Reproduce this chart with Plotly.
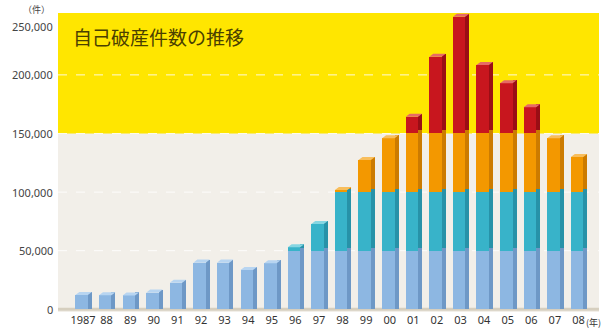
import numpy as np
import plotly.graph_objects as go

# 自己破産件数（件）
years = ["1987", "88", "89", "90", "91", "92", "93", "94", "95", "96", "97",
         "98", "99", "00", "01", "02", "03", "04", "05", "06", "07", "08"]
counts = [12200, 12000, 11800, 14200, 22700, 39800, 39800, 33500, 39200, 52900,
          72800, 101800, 127400, 146000, 164300, 215500, 249600, 208400, 192800,
          172300, 145900, 130000]

y_ticks = [0, 50000, 100000, 150000, 200000, 250000]
band_tops = [50000, 100000, 150000, None]

# front / side / top-cap colours for each 50,000 band
front_cols = ["#8DB7E2", "#38B3C9", "#F39800", "#C8161E"]
side_cols = ["#6E98C6", "#2792A8", "#CC7B00", "#9A0E15"]
cap_cols = ["#B8D5F1", "#86D6E2", "#F8BE5C", "#E66A66"]

idx = np.arange(len(years), dtype=float)
vals = np.array(counts, dtype=float)

FW = 0.53      # front face width (category units)
SW = 0.17      # side face width
DY = 2600      # vertical depth offset of the 3D faces

fig = go.Figure()

# each band is drawn from the floor up to its own top, highest band first,
# so lower bands paint over the upper ones without seams
for k in reversed(range(4)):
    hi = band_tops[k]
    top = vals if hi is None else np.minimum(vals, hi)
    lo = 0 if k == 0 else band_tops[k - 1]
    present = vals > lo
    h = np.where(present, top, 0)
    fig.add_trace(go.Bar(
        x=idx + FW / 2 + SW / 2, y=np.where(present, h + DY, 0),
        width=SW, marker=dict(color=side_cols[k], line=dict(width=0)),
        hoverinfo="skip", showlegend=False))
    fig.add_trace(go.Bar(
        x=idx, y=h, width=FW,
        marker=dict(color=front_cols[k], line=dict(width=0)),
        hoverinfo="skip", showlegend=False))

# top caps (parallelograms) coloured by the band of the bar's top
def band_of(v):
    if v > 150000:
        return 3
    if v > 100000:
        return 2
    if v > 50000:
        return 1
    return 0

for k in range(4):
    xs, ys = [], []
    for i, v in zip(idx, vals):
        if band_of(v) != k:
            continue
        x0 = i - FW / 2
        x1 = i + FW / 2
        xs += [x0, x1, x1 + SW, x0 + SW, x0, None]
        ys += [v, v, v + DY, v + DY, v, None]
    if xs:
        fig.add_trace(go.Scatter(
            x=xs, y=ys, mode="lines", fill="toself", fillcolor=cap_cols[k],
            line=dict(width=0, color=cap_cols[k]), hoverinfo="skip",
            showlegend=False))

y_lo, y_hi = -2300, 252800

shapes = [
    # yellow band above 150,000
    dict(type="rect", xref="paper", yref="y", x0=0, x1=1, y0=150000, y1=y_hi,
         fillcolor="#FFE600", line=dict(width=0), layer="below"),
    # floor line
    dict(type="line", xref="paper", yref="y", x0=0, x1=1, y0=0, y1=0,
         line=dict(color="#D6CFBF", width=3), layer="below"),
]
for t in [50000, 100000, 150000, 200000]:
    shapes.append(dict(type="line", xref="paper", yref="y", x0=0, x1=1, y0=t, y1=t,
                       line=dict(color="rgba(255,255,255,0.85)", width=1, dash="dash"),
                       layer="below"))

annotations = []
for t in y_ticks:
    ypos = t if t < 250000 else 241000
    annotations.append(dict(
        x=0, xref="paper", y=ypos, yref="y", xanchor="right", yanchor="middle",
        xshift=-3, text=f"{t:,}", showarrow=False,
        font=dict(family="Noto Sans", size=11, color="#444444")))
annotations.append(dict(
    x=0, xref="paper", y=1, yref="paper", xanchor="right", yanchor="bottom",
    xshift=-6, yshift=-5, text="（件）", showarrow=False,
    font=dict(family="Noto Sans CJK JP", size=9, color="#444444")))
annotations.append(dict(
    x=1, xref="paper", y=0, yref="paper", xanchor="right", yanchor="middle",
    xshift=3, yshift=-10, text="(年)", showarrow=False, borderpad=0,
    font=dict(family="Noto Sans CJK JP", size=9, color="#333333")))
annotations.append(dict(
    x=0, xref="paper", y=1, yref="paper", xanchor="left", yanchor="top",
    xshift=13, yshift=-8, text="自己破産件数の推移", showarrow=False,
    font=dict(family="Noto Sans CJK JP", size=19, color="#4A4000")))

fig.update_layout(
    width=602, height=329,
    margin=dict(l=58, r=3, t=13, b=17),
    paper_bgcolor="white", plot_bgcolor="#F2EFE9",
    barmode="overlay", bargap=0,
    shapes=shapes, annotations=annotations,
    xaxis=dict(range=[-1.0, 21.93], tickvals=idx + 0.06, ticktext=years,
               showgrid=False, zeroline=False, showline=False, ticks="",
               tickfont=dict(family="Noto Sans", size=11, color="#333333")),
    yaxis=dict(range=[y_lo, y_hi], showgrid=False, zeroline=False,
               showline=False, showticklabels=False, ticks=""),
)

fig.write_html("out.html")
